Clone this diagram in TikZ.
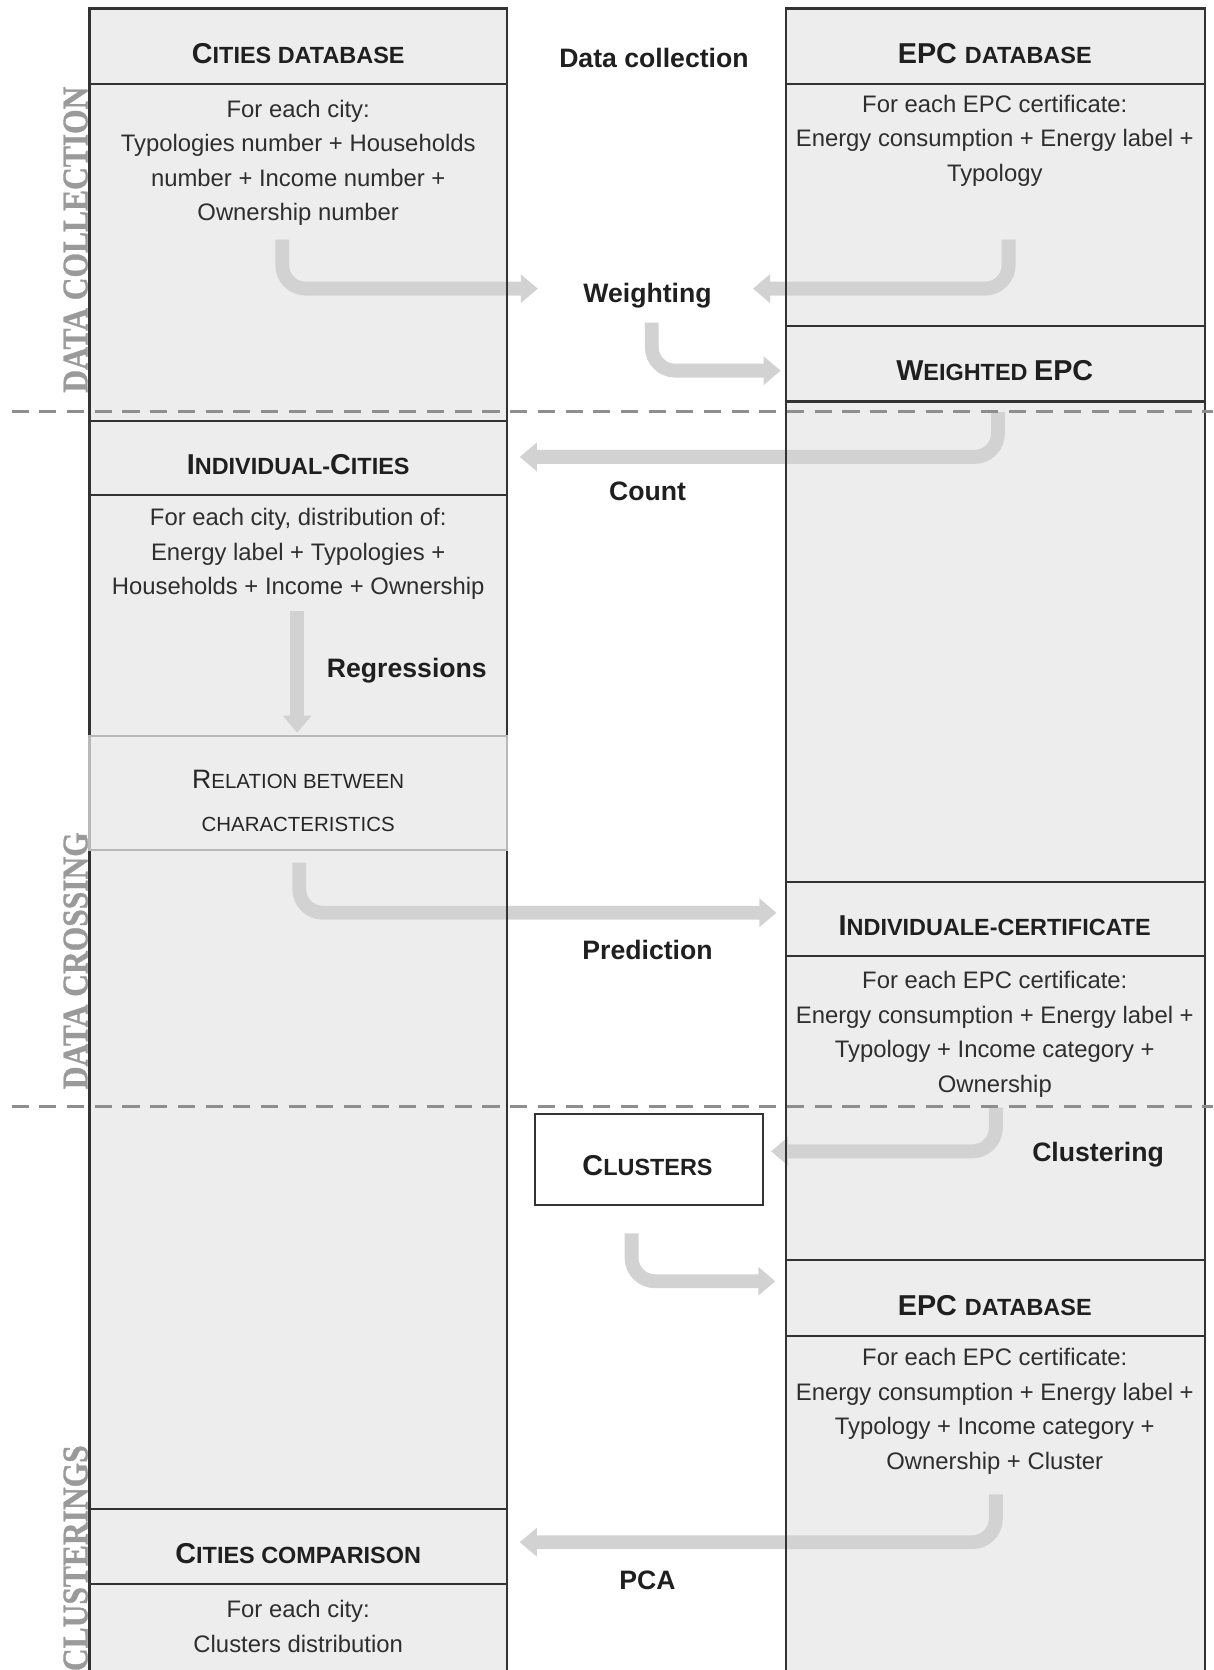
\documentclass[tikz,border=0pt]{standalone}
\usepackage{fontspec}
\setmainfont{Liberation Sans}
\newfontfamily\phasefont[BoldFeatures={FakeBold=1}]{Liberation Serif}
\usetikzlibrary{arrows.meta}

\definecolor{panelfill}{HTML}{EDEDED}
\definecolor{panelline}{HTML}{333333}
\definecolor{flowgray}{HTML}{D2D2D2}
\definecolor{splitgray}{HTML}{8E8E8E}
\definecolor{phasegray}{HTML}{9A9A9A}
\definecolor{faintline}{HTML}{B8B8B8}

% fake small capitals: large initial, smaller remaining capitals
\newcommand\HdBig[1]{{\fontsize{13.5pt}{16pt}\selectfont #1}}
\newcommand\HdSm[1]{{\fontsize{11pt}{13pt}\selectfont #1}}
\newcommand\RelBig[1]{{\fontsize{12.5pt}{15pt}\selectfont #1}}
\newcommand\RelSm[1]{{\fontsize{9.6pt}{12pt}\selectfont #1}}

\tikzset{
  panel/.style={rectangle, fill=panelfill, inner sep=0pt, outer sep=0pt, anchor=north west},
  title/.style={font=\bfseries, inner sep=0pt, text=black!88},
  reltitle/.style={inner sep=0pt, align=center, text=black!85},
  bodytext/.style={font=\fontsize{11.2pt}{16.2pt}\selectfont, align=center, inner sep=0pt, text=black!82},
  steplabel/.style={font=\bfseries\fontsize{12.5pt}{15pt}\selectfont, inner sep=0pt, text=black!88},
  phase/.style={font=\phasefont\bfseries\fontsize{17pt}{20pt}\selectfont, text=phasegray, rotate=90, inner sep=0pt},
  flow/.style={draw=flowgray, line width=6.5pt, rounded corners=11pt, -{Triangle[width=13pt, length=8pt]}},
  border/.style={draw=panelline, line width=1pt},
  split/.style={draw=splitgray, line width=1.5pt, dash pattern=on 8pt off 5pt},
}

\begin{document}
\begin{tikzpicture}[x=0.5pt, y=-0.5pt]
\useasboundingbox (0,0) rectangle (1139,1568);
\clip (0,0) rectangle (1139,1568);

% ---------- left column ----------
\node[panel, minimum width=196pt, minimum height=35.5pt] (cdbH) at (84,8) {};
\node[panel, minimum width=196pt, minimum height=158pt]  (cdbB) at (84,79) {};
\node[panel, minimum width=196pt, minimum height=35pt]   (icH)  at (84,395) {};
\node[panel, minimum width=196pt, minimum height=113pt]  (icB)  at (84,465) {};
\node[panel, minimum width=196pt, minimum height=53.5pt] (rel)  at (84,691) {};
\node[panel, minimum width=196pt, minimum height=309.5pt](lgap) at (84,798) {};
\node[panel, minimum width=196pt, minimum height=35pt]   (ccH)  at (84,1417) {};
\node[panel, minimum width=196pt, minimum height=55pt]   (ccB)  at (84,1487) {};

% ---------- right column ----------
\node[panel, minimum width=196.5pt, minimum height=35.5pt] (edbH)   at (738,8) {};
\node[panel, minimum width=196.5pt, minimum height=113.5pt](edbB)   at (738,79) {};
\node[panel, minimum width=196.5pt, minimum height=35.5pt] (wH)     at (738,306) {};
\node[panel, minimum width=196.5pt, minimum height=225.5pt](rgap)   at (738,377) {};
\node[panel, minimum width=196.5pt, minimum height=35pt]   (icertH) at (738,828) {};
\node[panel, minimum width=196.5pt, minimum height=142.5pt](icertB) at (738,898) {};
\node[panel, minimum width=196.5pt, minimum height=35.5pt] (edb2H)  at (738,1183) {};
\node[panel, minimum width=196.5pt, minimum height=170pt]  (edb2B)  at (738,1254) {};

% ---------- clusters box ----------
\node[panel, fill=white, minimum width=107pt, minimum height=42.5pt] (clu) at (502,1046) {};

% ---------- flow arrows ----------
\coordinate (a1s) at (265,225);  \coordinate (a1e) at (505,271);
\coordinate (a2s) at (947,225);  \coordinate (a2e) at (707,271);
\coordinate (a3s) at (612,303);  \coordinate (a3e) at (733,348);
\coordinate (a4s) at (937,387);  \coordinate (a4e) at (488,429);
\coordinate (a5s) at (279,574);  \coordinate (a5e) at (279,688);
\coordinate (a6s) at (281,810);  \coordinate (a6e) at (729,857);
\coordinate (a7s) at (935,1040); \coordinate (a7e) at (724,1081);
\coordinate (a8s) at (593,1158); \coordinate (a8e) at (728,1203);
\coordinate (a9s) at (935,1403); \coordinate (a9e) at (488,1448);

\draw[flow] (a1s) |- (a1e);
\draw[flow] (a2s) |- (a2e);
\draw[flow] (a3s) |- (a3e);
\draw[flow] (a4s) |- (a4e);
\draw[flow] (a5s) -- (a5e);
\draw[flow] (a6s) |- (a6e);
\draw[flow] (a7s) |- (a7e);
\draw[flow] (a8s) |- (a8e);
\draw[flow] (a9s) |- (a9e);

% ---------- panel borders ----------
\foreach \p in {cdbH,cdbB,icH,icB,lgap,ccH,ccB,edbH,edbB,wH,rgap,icertH,icertB,edb2H,edb2B,clu}
  \draw[border] (\p.north west) rectangle (\p.south east);
\draw[draw=faintline, line width=1pt] (rel.north west) rectangle (rel.south east);

% ---------- titles ----------
\node[title] (tcdb)   at (280,50)   {\HdBig{C}\HdSm{ITIES DATABASE}};
\node[title] (tedb)   at (934,50)   {\HdBig{EPC }\HdSm{DATABASE}};
\node[title] (tw)     at (934,348)  {\HdBig{W}\HdSm{EIGHTED }\HdBig{EPC}};
\node[title] (tic)    at (280,436)  {\HdBig{I}\HdSm{NDIVIDUAL-}\HdBig{C}\HdSm{ITIES}};
\node[title] (ticert) at (934,869)  {\HdBig{I}\HdSm{NDIVIDUALE-CERTIFICATE}};
\node[title] (tclu)   at (608,1094) {\HdBig{C}\HdSm{LUSTERS}};
\node[title] (tedb2)  at (934,1226) {\HdBig{EPC }\HdSm{DATABASE}};
\node[title] (tcc)    at (280,1459) {\HdBig{C}\HdSm{ITIES COMPARISON}};
\node[reltitle] (trel) at (280,752) {\RelBig{R}\RelSm{ELATION BETWEEN}\\[8pt]\RelSm{CHARACTERISTICS}};

% ---------- panel contents ----------
\node[bodytext] (bcdb) at (280,153) {For each city:\\Typologies number + Households\\number + Income number +\\Ownership number};
\node[bodytext] (bedb) at (934,132) {For each EPC certificate:\\Energy consumption + Energy label +\\Typology};
\node[bodytext] (bic) at (280,520) {For each city, distribution of:\\Energy label + Typologies +\\Households + Income + Ownership};
\node[bodytext] (bicert) at (934,971) {For each EPC certificate:\\Energy consumption + Energy label +\\Typology + Income category +\\Ownership};
\node[bodytext] (bedb2) at (934,1325) {For each EPC certificate:\\Energy consumption + Energy label +\\Typology + Income category +\\Ownership + Cluster};
\node[bodytext] (bcc) at (280,1527) {For each city:\\Clusters distribution};

% ---------- step labels ----------
\node[steplabel] (ldc)  at (614,54)   {Data collection};
\node[steplabel] (lw)   at (608,278)  {Weighting};
\node[steplabel] (lc)   at (608,461)  {Count};
\node[steplabel] (lr)   at (382,630)  {Regressions};
\node[steplabel] (lp)   at (608,892)  {Prediction};
\node[steplabel] (lcl)  at (1031,1084){Clustering};
\node[steplabel] (lpca) at (608,1484) {PCA};

% ---------- phase separators and names ----------
\coordinate (s1l) at (11,386);  \coordinate (s1r) at (1139,386);
\coordinate (s2l) at (11,1039); \coordinate (s2r) at (1139,1039);
\draw[split] (s1l) -- (s1r);
\draw[split] (s2l) -- (s2r);

\node[phase] (p1) at (71,225)  {\scalebox{0.87}[1]{DATA COLLECTION}};
\node[phase] (p2) at (71,902)  {\scalebox{0.87}[1]{DATA CROSSING}};
\node[phase] (p3) at (71,1463) {\scalebox{0.87}[1]{CLUSTERINGS}};
\end{tikzpicture}
\end{document}
